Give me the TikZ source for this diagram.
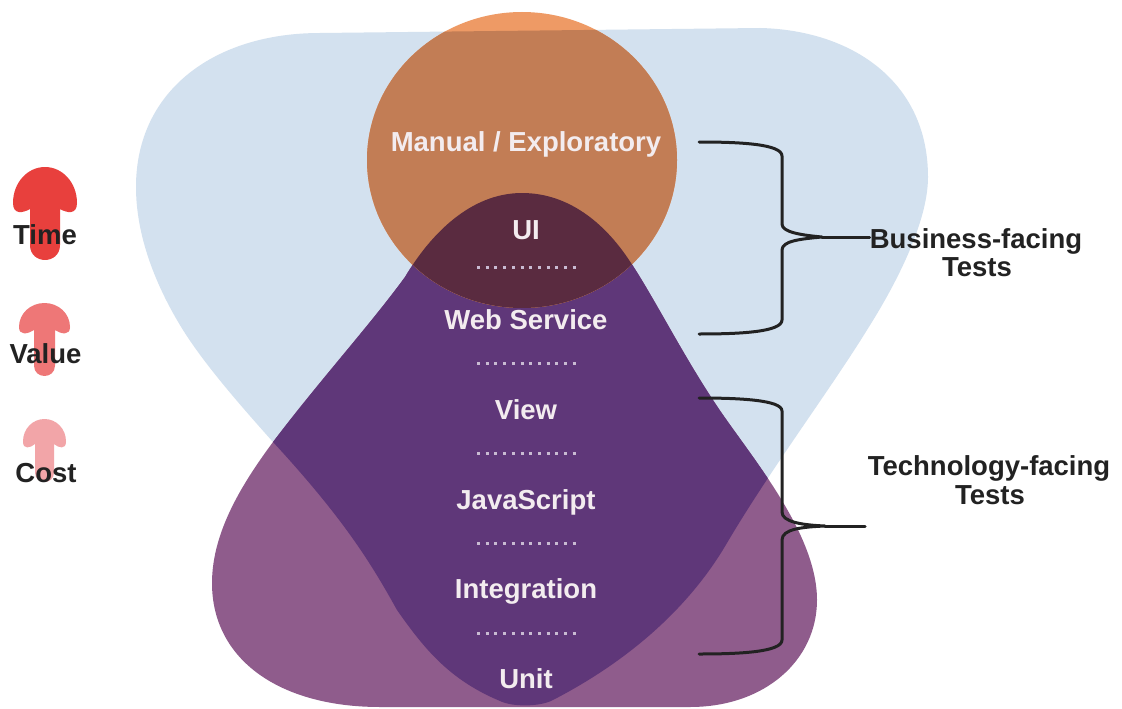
\documentclass[tikz,border=0pt]{standalone}
\usepackage{fontspec}
\setmainfont{Liberation Sans}
\definecolor{cblue}{HTML}{D3E1EF}
\definecolor{cplum}{HTML}{8F5C8C}
\definecolor{cdeep}{HTML}{5F3779}
\definecolor{corange}{HTML}{EE9A65}
\definecolor{cbrown}{HTML}{C27D55}
\definecolor{cmaroon}{HTML}{5A2B40}
\definecolor{cdots}{HTML}{C9BBD2}
\definecolor{cwhite}{HTML}{F3ECEF}
\definecolor{cink}{HTML}{222222}
\definecolor{ctime}{HTML}{E8403D}
\definecolor{cvalue}{HTML}{EE7777}
\definecolor{ccost}{HTML}{F2A5A8}
\def\bluepath{(320,33) -- (760,28)
  .. controls (850,30) and (928,80) .. (928,177)
  .. controls (928,215) and (905,270) .. (867,330)
  .. controls (830,390) and (770,470) .. (727,543)
  .. controls (695,598) and (640,655) .. (553,700)
  .. controls (540,707) and (512,707) .. (500,701)
  .. controls (450,680) and (425,650) .. (397,610)
  .. controls (372,565) and (345,520) .. (273,442)
  .. controls (240,405) and (205,365) .. (183,330)
  .. controls (155,285) and (136,235) .. (136,187)
  .. controls (136,90) and (215,33) .. (320,33) -- cycle}
\def\plumpath{(522,193)
  .. controls (570,193) and (605,225) .. (627,257)
  .. controls (650,290) and (680,350) .. (713,400)
  .. controls (745,450) and (817,530) .. (817,600)
  .. controls (817,660) and (765,707) .. (690,707)
  -- (380,707)
  .. controls (280,707) and (212,660) .. (212,583)
  .. controls (212,530) and (245,480) .. (273,442)
  .. controls (320,380) and (370,325) .. (405,277)
  .. controls (430,235) and (470,193) .. (522,193) -- cycle}
\def\ballpath{(522,160) ellipse [x radius=155,y radius=148]}
\newcommand\mushroomarrow[7]{%
  \fill[#7] ({#1-#5},{#4-3})
    .. controls ({#1-#5-0.4*(#3-#5)},{#4+1}) and ({#1-#3},{#4+3}) .. ({#1-#3},{#4-0.2*(#4-#2)})
    .. controls ({#1-#3},{#2+0.35*(#4-#2)}) and ({#1-0.55*#3},{#2}) .. ({#1},{#2})
    .. controls ({#1+0.55*#3},{#2}) and ({#1+#3},{#2+0.35*(#4-#2)}) .. ({#1+#3},{#4-0.2*(#4-#2)})
    .. controls ({#1+#3},{#4+3}) and ({#1+#5+0.4*(#3-#5)},{#4+1}) .. ({#1+#5},{#4-3})
    -- ({#1+#5},{#6-#5})
    .. controls ({#1+#5},{#6+0.33*#5}) and ({#1-#5},{#6+0.33*#5}) .. ({#1-#5},{#6-#5}) -- cycle;}
\tikzset{
  lighttext/.style={anchor=base,yshift=-1pt,text=cwhite,font=\fontsize{27.5}{27.5}\selectfont\bfseries,inner sep=0pt},
  inktext/.style={anchor=base,yshift=-1pt,text=cink,font=\fontsize{27.5}{27.5}\selectfont\bfseries,inner sep=0pt},
  dotrow/.style={cdots,line width=3pt,dash pattern=on 3pt off 5.7pt},
  bracket/.style={cink,line width=3pt,line cap=round,line join=round}
}
\begin{document}
\begin{tikzpicture}[x=1pt,y=-1pt]
\useasboundingbox (0,0) rectangle (1122,709);
\fill[white] (0,0) rectangle (1122,709);
% large shapes
\fill[cblue] \bluepath;
\fill[cplum] \plumpath;
\begin{scope}
  \clip \bluepath;
  \fill[cdeep] \plumpath;
\end{scope}
\fill[corange] \ballpath;
\begin{scope}
  \clip \ballpath;
  \fill[cbrown] \bluepath;
  \clip \bluepath;
  \fill[cmaroon] \plumpath;
\end{scope}
% arrows on the left
\mushroomarrow{45}{167}{32}{212}{15}{260}{ctime}
\mushroomarrow{44.5}{303}{25.5}{333}{10.5}{376}{cvalue}
\mushroomarrow{44.5}{419}{21.5}{447}{9.5}{482}{ccost}
\node[inktext] (time) at (45,243) {Time};
\node[inktext] (value) at (45.5,362) {Value};
\node[inktext] (cost) at (46,481) {Cost};
% layer labels
\node[lighttext] (manual) at (526,150) {Manual / Exploratory};
\node[lighttext] (ui) at (526,238) {UI};
\node[lighttext] (web) at (526,328) {Web Service};
\node[lighttext] (view) at (526,418) {View};
\node[lighttext] (js) at (526,508) {JavaScript};
\node[lighttext] (integ) at (526,597) {Integration};
\node[lighttext] (unit) at (526,687) {Unit};
% dotted separators
\foreach \rowy/\rowname in {267/a,363/b,453/c,543/d,633/e}{
  \coordinate (dots\rowname l) at (477,\rowy);
  \coordinate (dots\rowname r) at (576,\rowy);
  \draw[dotrow] (dots\rowname l) -- (dots\rowname r);
}
% side labels
\node[inktext] (biz) at (976,247) {Business-facing};
\node[inktext] (biztests) at (977,275) {Tests};
\node[inktext] (tech) at (989,474) {Technology-facing};
\node[inktext] (techtests) at (990,503) {Tests};
% brackets
\coordinate (biztop) at (699,142);
\coordinate (bizbot) at (699,334);
\coordinate (biztip) at (822,237);
\coordinate (bizend) at (biz.west |- biztip);
\draw[bracket] (biztop) .. controls (740,142) and (782,144) .. (782,156)
  -- (782,224) .. controls (782,232) and (800,235) .. (biztip)
  .. controls (800,239) and (782,241) .. (782,250)
  -- (782,320) .. controls (782,332) and (740,334) .. (bizbot);
\draw[bracket] (biztip) -- (bizend);
\coordinate (techtop) at (699,398);
\coordinate (techbot) at (699,654);
\coordinate (techtip) at (825,526);
\coordinate (techend) at (865,526);
\draw[bracket] (techtop) .. controls (740,398) and (782,400) .. (782,411)
  -- (782,512) .. controls (782,522) and (802,525) .. (techtip)
  .. controls (802,527) and (782,529) .. (782,540)
  -- (782,640) .. controls (782,652) and (740,654) .. (techbot);
\draw[bracket] (techtip) -- (techend);
\end{tikzpicture}
\end{document}
